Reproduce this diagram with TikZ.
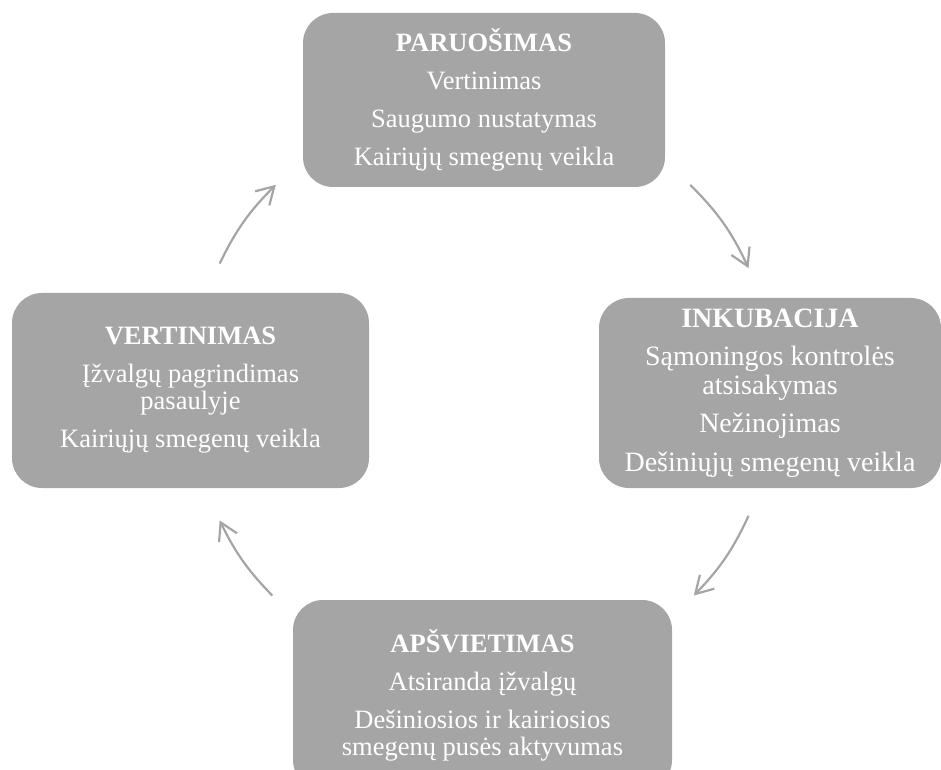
\documentclass[tikz,border=0pt]{standalone}
\usepackage{fontspec}
\setmainfont{Liberation Serif}
\usepackage{xcolor}
\usetikzlibrary{arrows.meta,calc}
\definecolor{stagegray}{HTML}{A5A5A5}

\begin{document}
\begin{tikzpicture}[x=1pt, y=1pt]
  \tikzstyle{stage}=[rectangle, rounded corners=30pt, fill=stagegray, text=white, align=center, inner sep=0pt, font=\fontsize{26.5}{27}\selectfont]
  \tikzstyle{cycle}=[draw=stagegray, line width=2.2pt, -{Straight Barb[length=17pt, width=20pt, line width=2.2pt]}]

  \useasboundingbox (0,0) rectangle (941,769);

  % Etapai
  \node[stage, minimum width=362pt, minimum height=174pt] (prep) at (484,669) {\textbf{PARUOŠIMAS}\\[11pt]Vertinimas\\[11pt]Saugumo nustatymas\\[11pt]Kairiųjų smegenų veikla};
  \node[stage, minimum width=342pt, minimum height=190pt, font=\fontsize{28}{28.5}\selectfont] (inc) at (770,376) {\textbf{INKUBACIJA}\\[10pt]Sąmoningos kontrolės\\atsisakymas\\[10pt]Nežinojimas\\[10pt]Dešiniųjų smegenų veikla};
  \node[stage, minimum width=379pt, minimum height=190pt] (ill) at (482.5,74) {\textbf{APŠVIETIMAS}\\[11pt]Atsiranda įžvalgų\\[11pt]Dešiniosios ir kairiosios\\smegenų pusės aktyvumas};
  \node[stage, minimum width=357pt, minimum height=195pt] (ver) at (190.5,378.5) {\textbf{VERTINIMAS}\\[11pt]Įžvalgų pagrindimas\\pasaulyje\\[11pt]Kairiųjų smegenų veikla};

  % Ciklo rodyklės
  \coordinate (ctr) at (483,377);
  \coordinate (a1s) at ([shift={(154:293pt)}]ctr);
  \coordinate (a1e) at ([shift={(135:293pt)}]ctr);
  \coordinate (a2s) at ([shift={(45:293pt)}]ctr);
  \coordinate (a2e) at ([shift={(25:293pt)}]ctr);
  \coordinate (a3s) at ([shift={(-25:293pt)}]ctr);
  \coordinate (a3e) at ([shift={(-44:293pt)}]ctr);
  \coordinate (a4s) at ([shift={(224:293pt)}]ctr);
  \coordinate (a4e) at ([shift={(206:293pt)}]ctr);

  \draw[cycle] (a1s) to[bend left=9.5] (a1e);
  \draw[cycle] (a2s) to[bend left=10] (a2e);
  \draw[cycle] (a3s) to[bend left=9.5] (a3e);
  \draw[cycle] (a4s) to[bend left=9] (a4e);
\end{tikzpicture}
\end{document}
